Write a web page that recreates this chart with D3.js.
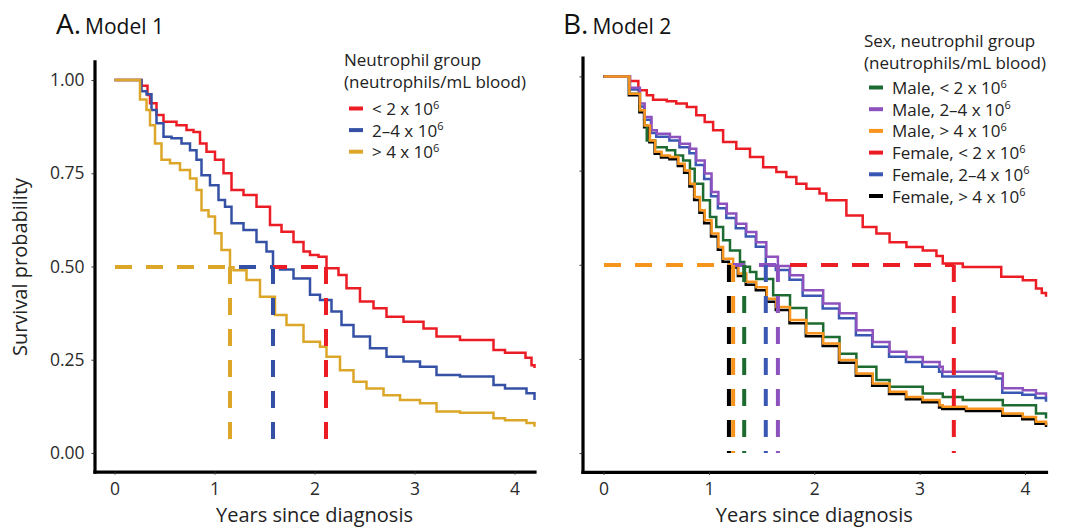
<!DOCTYPE html>
<html>
<head>
<meta charset="utf-8">
<script src="https://cdn.jsdelivr.net/npm/d3@7"></script>
<style>
  body { margin: 0; background: #fff; }
  svg { font-family: "Open Sans", "Noto Sans", sans-serif; }
</style>
</head>
<body>
<svg id="chart" width="1070" height="528"></svg>
<script>
// Model 1: survival by neutrophil group, [years, survival]
const m1Low = [[0,1],[0.27,0.985],[0.33,0.96],[0.355,0.938],[0.42,0.906],[0.49,0.888],[0.62,0.879],[0.72,0.866],[0.79,0.861],[0.855,0.83],[0.92,0.808],[1.005,0.786],[1.09,0.75],[1.17,0.705],[1.29,0.692],[1.42,0.66],[1.555,0.611],[1.67,0.593],[1.79,0.566],[1.89,0.54],[1.955,0.531],[2.04,0.526],[2.12,0.495],[2.24,0.477],[2.32,0.442],[2.455,0.406],[2.59,0.388],[2.72,0.365],[2.89,0.352],[3.09,0.334],[3.22,0.312],[3.455,0.303],[3.79,0.276],[3.905,0.269],[4.11,0.255],[4.17,0.235],[4.2,0.228]];
const m1Mid = [[0,1],[0.27,0.97],[0.32,0.962],[0.37,0.92],[0.42,0.884],[0.49,0.848],[0.57,0.844],[0.67,0.83],[0.755,0.812],[0.82,0.786],[0.87,0.745],[0.955,0.718],[1.04,0.678],[1.105,0.66],[1.17,0.616],[1.29,0.598],[1.42,0.566],[1.52,0.54],[1.585,0.498],[1.655,0.492],[1.79,0.468],[1.955,0.424],[2.055,0.41],[2.17,0.379],[2.27,0.343],[2.39,0.312],[2.555,0.281],[2.72,0.258],[2.89,0.245],[3.055,0.231],[3.22,0.209],[3.455,0.205],[3.79,0.182],[3.905,0.173],[4.12,0.16],[4.2,0.142]];
const m1High = [[0,1],[0.255,0.948],[0.32,0.92],[0.355,0.879],[0.405,0.83],[0.47,0.786],[0.555,0.777],[0.655,0.759],[0.755,0.736],[0.82,0.705],[0.87,0.651],[0.94,0.634],[1.005,0.589],[1.07,0.544],[1.155,0.498],[1.19,0.49],[1.32,0.464],[1.455,0.419],[1.605,0.37],[1.72,0.343],[1.89,0.298],[2.055,0.285],[2.12,0.258],[2.255,0.222],[2.39,0.191],[2.52,0.173],[2.69,0.155],[2.855,0.142],[3.055,0.133],[3.22,0.111],[3.455,0.108],[3.79,0.093],[3.905,0.088],[4.12,0.08],[4.2,0.07]];
const m1Labels = ["< 2 x 10", "2\u20134 x 10", "> 4 x 10"];
const m1Medians = [2.115, 1.585, 1.155];

// Model 2: survival by sex and neutrophil group
const maleLow = [[0,1],[0.245,0.954],[0.345,0.91],[0.39,0.87],[0.41,0.83],[0.49,0.812],[0.6,0.804],[0.68,0.79],[0.755,0.777],[0.82,0.755],[0.865,0.715],[0.945,0.671],[1.01,0.627],[1.07,0.6],[1.135,0.565],[1.2,0.538],[1.295,0.507],[1.335,0.495],[1.39,0.481],[1.45,0.462],[1.61,0.419],[1.77,0.385],[1.925,0.344],[2.085,0.308],[2.24,0.264],[2.4,0.229],[2.59,0.194],[2.715,0.176],[3.03,0.158],[3.22,0.149],[3.41,0.141],[3.79,0.127],[4.105,0.105],[4.2,0.092]];
const maleMid = [[0,1],[0.25,0.97],[0.345,0.928],[0.39,0.892],[0.455,0.857],[0.505,0.848],[0.63,0.839],[0.725,0.821],[0.82,0.808],[0.88,0.777],[0.96,0.742],[1.025,0.693],[1.09,0.662],[1.17,0.636],[1.26,0.609],[1.355,0.587],[1.45,0.56],[1.545,0.521],[1.655,0.497],[1.77,0.472],[1.895,0.432],[2.085,0.397],[2.24,0.371],[2.4,0.326],[2.555,0.295],[2.715,0.269],[2.875,0.255],[3.03,0.242],[3.19,0.229],[3.22,0.216],[3.73,0.211],[3.79,0.172],[3.98,0.167],[4.105,0.158],[4.2,0.149]];
const maleHigh = [[0,1],[0.245,0.954],[0.345,0.91],[0.39,0.87],[0.44,0.83],[0.49,0.8],[0.55,0.79],[0.63,0.786],[0.71,0.768],[0.77,0.75],[0.82,0.715],[0.865,0.68],[0.915,0.645],[0.96,0.618],[1.025,0.583],[1.09,0.547],[1.135,0.516],[1.23,0.497],[1.28,0.477],[1.355,0.455],[1.45,0.44],[1.55,0.41],[1.64,0.388],[1.77,0.353],[1.925,0.318],[2.085,0.291],[2.24,0.247],[2.4,0.211],[2.555,0.185],[2.715,0.163],[2.875,0.149],[3.03,0.141],[3.19,0.127],[3.22,0.123],[3.445,0.118],[3.79,0.105],[3.98,0.096],[4.105,0.083],[4.2,0.074]];
const femaleLow = [[0,1],[0.25,0.988],[0.33,0.963],[0.41,0.95],[0.47,0.938],[0.6,0.934],[0.69,0.928],[0.79,0.919],[0.88,0.897],[0.96,0.879],[1.04,0.857],[1.135,0.826],[1.26,0.808],[1.39,0.786],[1.515,0.759],[1.64,0.746],[1.735,0.733],[1.83,0.715],[1.925,0.702],[2.05,0.689],[2.115,0.671],[2.305,0.631],[2.46,0.6],[2.59,0.583],[2.715,0.56],[2.875,0.547],[3.03,0.538],[3.16,0.523],[3.22,0.503],[3.41,0.494],[3.775,0.468],[3.98,0.459],[4.105,0.437],[4.16,0.425],[4.2,0.415]];
const femaleMid = [[0,1],[0.25,0.965],[0.34,0.92],[0.385,0.885],[0.45,0.85],[0.5,0.84],[0.625,0.83],[0.72,0.812],[0.815,0.796],[0.875,0.765],[0.955,0.728],[1.02,0.682],[1.085,0.65],[1.165,0.624],[1.255,0.597],[1.35,0.575],[1.445,0.548],[1.54,0.498],[1.635,0.486],[1.765,0.46],[1.89,0.418],[2.08,0.384],[2.235,0.358],[2.395,0.313],[2.55,0.282],[2.71,0.256],[2.87,0.242],[3.025,0.229],[3.185,0.216],[3.215,0.203],[3.725,0.198],[3.785,0.16],[3.975,0.155],[4.1,0.146],[4.2,0.136]];
const femaleHigh = [[0,1],[0.24,0.95],[0.34,0.905],[0.385,0.865],[0.435,0.825],[0.485,0.795],[0.545,0.785],[0.625,0.78],[0.705,0.762],[0.765,0.744],[0.815,0.708],[0.86,0.672],[0.91,0.638],[0.955,0.61],[1.02,0.575],[1.085,0.54],[1.13,0.508],[1.19,0.493],[1.275,0.47],[1.35,0.447],[1.445,0.432],[1.545,0.402],[1.635,0.38],[1.765,0.345],[1.92,0.31],[2.08,0.284],[2.235,0.24],[2.395,0.205],[2.55,0.179],[2.71,0.157],[2.87,0.143],[3.025,0.135],[3.185,0.121],[3.215,0.117],[3.44,0.112],[3.785,0.099],[3.975,0.09],[4.1,0.078],[4.2,0.069]];
const m2Labels = ["Male, < 2 x 10", "Male, 2\u20134 x 10", "Male, > 4 x 10", "Female, < 2 x 10", "Female, 2\u20134 x 10", "Female, > 4 x 10"];
const m2Medians = [1.335, 1.655, 1.23, 3.325, 1.54, 1.19];

const xTicks = [0, 1, 2, 3, 4];
const yTicks = [0, 0.25, 0.5, 0.75, 1];

const svg = d3.select("#chart");

const m1 = [
  { data: m1Low, label: m1Labels[0], median: m1Medians[0], color: "#ec1c24" },
  { data: m1Mid, label: m1Labels[1], median: m1Medians[1], color: "#3451a5" },
  { data: m1High, label: m1Labels[2], median: m1Medians[2], color: "#dca628" }
];
const m2 = [
  { data: maleLow, label: m2Labels[0], median: m2Medians[0], color: "#1d6b30" },
  { data: maleMid, label: m2Labels[1], median: m2Medians[1], color: "#8e52bf" },
  { data: maleHigh, label: m2Labels[2], median: m2Medians[2], color: "#f7941d" },
  { data: femaleLow, label: m2Labels[3], median: m2Medians[3], color: "#ec1c24" },
  { data: femaleMid, label: m2Labels[4], median: m2Medians[4], color: "#3a58b3" },
  { data: femaleHigh, label: m2Labels[5], median: m2Medians[5], color: "#000000" }
];

function panel(opts) {
  const { series, xRange, yRange, showYLabels, curveOrder, hOrder, vOrder } = opts;
  const x = d3.scaleLinear().domain([-0.2, 4.2]).range(xRange);
  const y = d3.scaleLinear().domain([-0.05, 1.05]).range(yRange);
  const g = svg.append("g");

  const line = d3.line()
    .x(d => x(d[0]))
    .y(d => y(d[1]))
    .curve(d3.curveStepAfter);

  // survival curves
  curveOrder.forEach(i => {
    g.append("path")
      .datum(series[i].data)
      .attr("fill", "none")
      .attr("stroke", series[i].color)
      .attr("stroke-width", 2.5)
      .attr("d", line);
  });

  // median lines: horizontal at 0.5, vertical down to 0
  const yHalf = Math.round(y(0.5));
  hOrder.forEach(i => {
    g.append("line")
      .attr("x1", x(0)).attr("x2", x(series[i].median))
      .attr("y1", yHalf).attr("y2", yHalf)
      .attr("stroke", series[i].color)
      .attr("stroke-width", 4)
      .attr("shape-rendering", "crispEdges")
      .attr("stroke-dasharray", "17,14");
  });
  vOrder.forEach(i => {
    g.append("line")
      .attr("x1", x(series[i].median)).attr("x2", x(series[i].median))
      .attr("y1", yHalf).attr("y2", y(0))
      .attr("stroke", series[i].color)
      .attr("stroke-width", 4)
      .attr("stroke-dasharray", "17,14");
  });

  const xAxis = g.append("g")
    .attr("transform", `translate(0,${yRange[0]})`)
    .call(d3.axisBottom(x).tickValues(xTicks).tickSize(3).tickSizeOuter(0).tickPadding(8).tickFormat(d3.format("d")));
  const yAxis = g.append("g")
    .attr("transform", `translate(${xRange[0]},0)`)
    .call(d3.axisLeft(y).tickValues(yTicks).tickSize(3).tickSizeOuter(0).tickPadding(7)
      .tickFormat(showYLabels ? d3.format(".2f") : () => ""));

  [xAxis, yAxis].forEach(a => {
    a.select(".domain").attr("stroke", "#000").attr("stroke-width", 3.2).attr("stroke-linecap", "square");
    a.selectAll(".tick line").attr("stroke", "#333").attr("stroke-width", 1);
    a.selectAll(".tick text")
      .attr("fill", "#2b2b2b")
      .style("font-size", "17.5px")
      .style("font-family", "'Open Sans', sans-serif");
  });

  g.append("text")
    .attr("x", (xRange[0] + xRange[1]) / 2)
    .attr("y", 522)
    .attr("text-anchor", "middle")
    .attr("fill", "#222")
    .style("font-size", "20px")
    .text("Years since diagnosis");
  return { x, y };
}

panel({
  series: m1, xRange: [94.5, 534.5], yRange: [471.6, 61.4], showYLabels: true,
  curveOrder: [0, 1, 2], hOrder: [0, 1, 2], vOrder: [0, 1, 2]
});
panel({
  series: m2, xRange: [582.5, 1046], yRange: [471.9, 57.6], showYLabels: false,
  curveOrder: [3, 4, 5, 0, 1, 2], hOrder: [3, 4, 5, 0, 1, 2], vOrder: [3, 4, 1, 0, 2, 5]
});

// y-axis title
svg.append("text")
  .attr("transform", "translate(27,267) rotate(-90)")
  .attr("text-anchor", "middle")
  .attr("fill", "#222")
  .style("font-size", "20px")
  .text("Survival probability");

// panel titles
function title(xPos, letter, name) {
  const t = svg.append("text").attr("x", xPos).attr("y", 34).attr("fill", "#111");
  t.append("tspan").style("font-size", "28px").text(letter);
  t.append("tspan").attr("dx", 4).style("font-size", "21px").text(name);
}
title(56, "A.", "Model 1");
title(563, "B.", "Model 2");

// legends
function legend(series, xPos, titleLines, titleY, rowY0, rowStep) {
  const lg = svg.append("g").style("font-size", "17px").attr("fill", "#222");
  titleLines.forEach((s, i) => {
    lg.append("text").attr("x", xPos).attr("y", titleY + i * 21.5).text(s);
  });
  series.forEach((s, i) => {
    const yy = rowY0 + i * rowStep;
    lg.append("line")
      .attr("x1", xPos + 5).attr("x2", xPos + 19)
      .attr("y1", yy).attr("y2", yy)
      .attr("stroke", s.color).attr("stroke-width", 4);
    const t = lg.append("text").attr("x", xPos + 28).attr("y", yy + 6.5);
    t.append("tspan").text(s.label);
    t.append("tspan").attr("dy", -6.5).style("font-size", "11px").text("6");
  });
}
legend(m1, 344, ["Neutrophil group", "(neutrophils/mL blood)"], 66, 108.5, 21.6);
legend(m2, 864, ["Sex, neutrophil group", "(neutrophils/mL blood)"], 47, 87.5, 21.7);
</script>
</body>
</html>
